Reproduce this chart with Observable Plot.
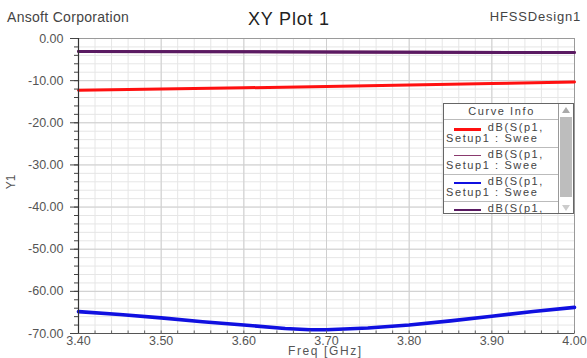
<!DOCTYPE html>
<html><head><meta charset="utf-8">
<script src="https://cdn.jsdelivr.net/npm/d3@7"></script>
<script src="https://cdn.jsdelivr.net/npm/@observablehq/plot@0.6"></script>
<style>
body{margin:0;background:#fff;font-family:"Liberation Sans",Arial,sans-serif;}
#wrap{position:relative;width:587px;height:358px;overflow:hidden;background:#fff}
.t{position:absolute;white-space:nowrap;line-height:1}
#legend{position:absolute;left:443px;top:103px;width:129px;height:109px;border:1px solid #666;background:#fff;overflow:hidden;font-size:11px;color:#444;letter-spacing:1.6px}
#legend .hdr{position:absolute;left:0;top:0;width:115px;height:15px;border-bottom:1px solid #bbb;text-align:center;line-height:15px}
#legend .row{position:absolute;left:0;width:115px;height:27px;border-bottom:1px solid #bbb}
#legend .sw{position:absolute;left:10px;top:8px;width:27px;height:0}
#legend .l1{position:absolute;right:15px;top:2px;line-height:1}
#legend .l2{position:absolute;left:2px;top:13px;line-height:1}
#sb{position:absolute;right:0;top:0;width:14px;height:109px;border-left:1px solid #999;background:#fff}
#thumb{position:absolute;left:1px;top:13px;width:12px;height:80px;background:#bdbdbd}
</style></head><body><div id="wrap"></div>
<script>
// ---- data ----
const redFreq = [3.40, 3.50, 3.60, 3.70, 3.80, 3.90, 4.00];
const redDb   = [-12.3, -12.0, -11.7, -11.4, -11.05, -10.7, -10.3];
const mauveFreq = [3.40, 3.70, 4.00];
const mauveDb   = [-3.1, -3.2, -3.35];
const blueFreq = [3.40, 3.45, 3.50, 3.55, 3.60, 3.65, 3.68, 3.70, 3.75, 3.80, 3.85, 3.90, 3.95, 4.00];
const blueDb   = [-64.8, -65.5, -66.3, -67.2, -68.0, -68.8, -69.1, -69.1, -68.7, -68.0, -67.0, -65.9, -64.8, -63.8];
const purpleFreq = [3.40, 3.70, 4.00];
const purpleDb   = [-3.1, -3.2, -3.35];
const xMajor = [3.40, 3.50, 3.60, 3.70, 3.80, 3.90, 4.00];
const xMinor = d3.range(0, 31).map(i => 3.40 + i * 0.02);
const yMajor = [0, -10, -20, -30, -40, -50, -60, -70];
const yMinor = d3.range(0, 36).map(i => -i * 2);
const legendLabels = [["dB(S(p1,", "Setup1 : Swee"], ["dB(S(p1,", "Setup1 : Swee"], ["dB(S(p1,", "Setup1 : Swee"], ["dB(S(p1,", ""]];

const toRows = (f, v) => f.map((x, i) => ({f: x, v: v[i]}));
const red = toRows(redFreq, redDb);
const mauve = toRows(mauveFreq, mauveDb);
const blue = toRows(blueFreq, blueDb);
const purple = toRows(purpleFreq, purpleDb);

const colors = ["#ff1010", "#8a3a6e", "#1010e0", "#5a1a62"];
const swatchW = [3, 1.5, 2.5, 2.5];

const plot = Plot.plot({
  width: 587, height: 358,
  marginLeft: 78, marginRight: 13, marginTop: 38, marginBottom: 25,
  x: {domain: [3.4, 4.0], label: null},
  y: {domain: [-70, 0], label: null},
  style: {fontFamily: '"Liberation Sans", Arial, sans-serif', fontSize: "12.5px", color: "#555", background: "#fff", overflow: "visible"},
  marks: [
    Plot.gridX(xMinor, {stroke: "#e6e6e6", strokeOpacity: 1}),
    Plot.gridY(yMinor, {stroke: "#e6e6e6", strokeOpacity: 1}),
    Plot.gridX(xMajor, {stroke: "#cfcfcf", strokeOpacity: 1}),
    Plot.gridY(yMajor, {stroke: "#cfcfcf", strokeOpacity: 1}),
    Plot.frame({stroke: "#9a9a9a"}),
    Plot.line(mauve, {x: "f", y: "v", stroke: colors[1], strokeWidth: 3}),
    Plot.line(purple, {x: "f", y: "v", stroke: colors[3], strokeWidth: 3}),
    Plot.line(red, {x: "f", y: "v", stroke: colors[0], strokeWidth: 3}),
    Plot.line(blue, {x: "f", y: "v", stroke: colors[2], strokeWidth: 3.6}),
    Plot.ruleX(xMinor, {y1: -70, y2: -69.4, stroke: "#666"}),
    Plot.axisY(yMinor, {tickSize: 4, fill: "none", stroke: "#444"}),
    Plot.axisY(yMajor, {tickSize: 8, tickPadding: 7, stroke: "#444", fill: "#555", tickFormat: d => d.toFixed(2), style: "letter-spacing:1px"}),
    Plot.axisX(xMajor, {tickSize: 0, tickPadding: 3, fill: "#555", tickFormat: d => d.toFixed(2), style: "letter-spacing:1px"}),
    Plot.ruleY([-70], {stroke: "#555", strokeWidth: 1.2}),
    Plot.ruleX([3.4], {stroke: "#333", strokeWidth: 1.2})
  ]
});
const wrap = document.getElementById("wrap");
wrap.appendChild(plot);

function addText(txt, css) {
  const d = document.createElement("div");
  d.className = "t"; d.textContent = txt; d.style.cssText = css; wrap.appendChild(d);
  return d;
}
addText("Ansoft Corporation", "left:7px;top:10px;font-size:14px;color:#444;letter-spacing:0.3px");
addText("XY Plot 1", "left:248px;top:10px;font-size:18px;color:#222;letter-spacing:0.8px");
addText("HFSSDesign1", "right:6px;top:10px;font-size:13px;color:#444;letter-spacing:0.8px");
addText("Freq [GHz]", "left:288px;top:345px;font-size:12px;color:#555;letter-spacing:1.6px");
addText("Y1", "left:4px;top:176px;font-size:12px;color:#555;transform:rotate(-90deg)");

// legend
const lg = document.createElement("div"); lg.id = "legend";
let html = '<div class="hdr">Curve Info</div>';
legendLabels.forEach((lab, i) => {
  html += `<div class="row" style="top:${16 + i * 27}px"><div class="sw" style="border-top:${swatchW[i]}px solid ${colors[i]}"></div><div class="l1">${lab[0]}</div><div class="l2">${lab[1]}</div></div>`;
});
html += '<div id="sb"><div id="thumb"></div><div style="position:absolute;left:3px;top:3px;width:0;height:0;border-left:4px solid transparent;border-right:4px solid transparent;border-bottom:6px solid #aaa"></div><div style="position:absolute;left:3px;bottom:2px;width:0;height:0;border-left:4px solid transparent;border-right:4px solid transparent;border-top:6px solid #ccc"></div></div>';
lg.innerHTML = html;
wrap.appendChild(lg);
</script>
</body></html>
